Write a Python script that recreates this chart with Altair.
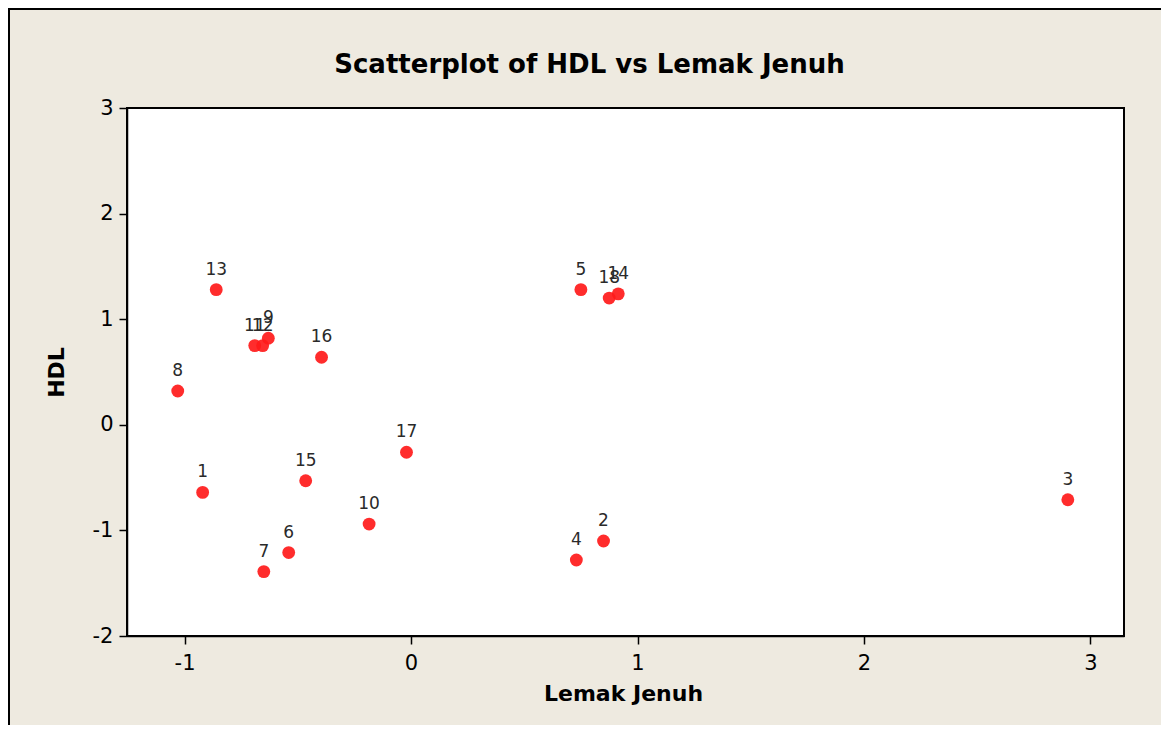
import altair as alt
import pandas as pd

obs = [str(i) for i in range(1, 19)]
lemak_jenuh = [-0.92, 0.85, 2.90, 0.73, 0.75, -0.54, -0.65, -1.03, -0.63, -0.185,
               -0.69, -0.655, -0.86, 0.915, -0.465, -0.395, -0.02, 0.875]
hdl = [-0.64, -1.10, -0.71, -1.28, 1.28, -1.21, -1.39, 0.32, 0.82, -0.94,
       0.75, 0.75, 1.28, 1.24, -0.53, 0.64, -0.26, 1.20]

df = pd.DataFrame({"obs": obs, "Lemak Jenuh": lemak_jenuh, "HDL": hdl})

FONT = "DejaVu Sans"
LBL = "datum.value < 0 ? '-' + abs(datum.value) : '' + datum.value"

x = alt.X("Lemak Jenuh:Q", title="Lemak Jenuh",
          scale=alt.Scale(domain=[-1.254, 3.148], nice=False, zero=False),
          axis=alt.Axis(values=[-1, 0, 1, 2, 3], labelExpr=LBL, grid=False))
y = alt.Y("HDL:Q", title="HDL",
          scale=alt.Scale(domain=[-2, 3], nice=False, zero=False),
          axis=alt.Axis(values=[-2, -1, 0, 1, 2, 3], labelExpr=LBL, grid=False))

pts = alt.Chart(df).mark_circle(size=165, color="#FF1A1A", opacity=0.92).encode(x=x, y=y)
lbl = alt.Chart(df).mark_text(dy=-20, fontSize=17, font=FONT, color="#2a2a2a").encode(
    x=x, y=y, text="obs:N")

frame = alt.Chart(df).mark_rect(fill=None, stroke="black", strokeWidth=2, clip=False).encode(
    x=alt.value(-118), x2=alt.value(1100), y=alt.value(-99), y2=alt.value(700))

chart = alt.layer(frame, pts, lbl).properties(
    width=997, height=528,
    autosize=alt.AutoSizeParams(type="none"),
    padding={"left": 119, "top": 100, "right": 37, "bottom": 89},
    background="#EEEAE0",
    title=alt.Title("Scatterplot of HDL vs Lemak Jenuh", font=FONT, fontSize=26,
                    fontWeight="bold", color="black", offset=-70, anchor="middle",
                    frame="group", dx=-36),
).configure_view(
    fill="white", stroke="black", strokeWidth=2
).configure_axis(
    labelFont=FONT, labelFontSize=21, labelColor="black",
    titleFont=FONT, titleFontSize=22, titleFontWeight="bold", titleColor="black",
    domainColor="black", domainWidth=1.5, tickColor="black", tickSize=8, tickWidth=1.5,
    labelPadding=6,
).configure_axisX(titlePadding=10, labelPadding=8, titleX=496).configure_axisY(titlePadding=24)

chart.save("out.html", embed_options={"renderer": "svg", "actions": False})
